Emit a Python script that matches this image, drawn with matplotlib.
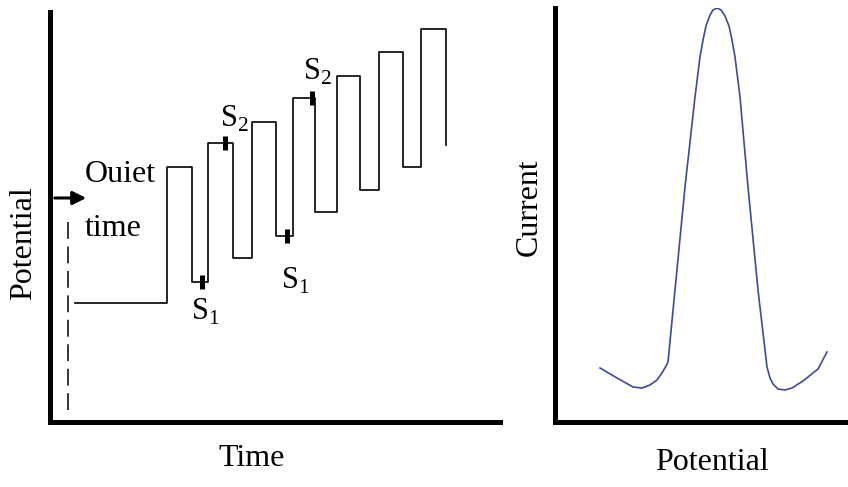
import numpy as np
import matplotlib
matplotlib.use("Agg")
import matplotlib.pyplot as plt

plt.rcParams["font.family"] = "Liberation Serif"
plt.rcParams["mathtext.fontset"] = "custom"
plt.rcParams["mathtext.rm"] = "Liberation Serif"

# square wave potential program (time, potential in drawing units)
quiet_start = 25
base_level = 119
rise_times = [117, 158, 202, 243, 287, 329, 371]
fall_times = [142, 183, 226, 265, 310, 353, 396]
top_levels = [255, 279, 300, 324, 346, 370, 393]
bottom_levels = [140, 164, 186, 210, 232, 255, 277]

# sampling points S1 / S2
sample_t = [152, 175, 237, 262]
sample_p = [140, 279, 186, 324]
sample_lbl = [r"$\mathrm{S}_1$", r"$\mathrm{S}_2$", r"$\mathrm{S}_1$", r"$\mathrm{S}_2$"]
label_t = [155, 184, 245, 267]
label_p = [110, 303, 141, 350]

# voltammogram (potential, current)
pot = [45, 62, 78, 87, 95, 102, 107, 111, 113, 120, 130, 140, 145, 148, 151, 155, 158,
       162, 166, 170, 174, 177, 180, 185, 193, 203, 212, 215, 218, 223, 230, 237, 248, 263, 272]
cur = [54, 44, 35, 34, 37, 42, 49, 56, 60, 132, 235, 325, 365, 382, 396, 407, 412,
       414, 412, 406, 396, 382, 365, 325, 235, 132, 55, 44, 38, 33, 32, 34, 41, 53, 70]

fig = plt.figure(figsize=(8.48, 4.87), dpi=100)
W, H = 848, 487


def add_panel(x0, x1, y0, y1):
    a = fig.add_axes([x0 / W, (H - y1) / H, (x1 - x0) / W, (y1 - y0) / H])
    for s in ["top", "right"]:
        a.spines[s].set_visible(False)
    for s in ["left", "bottom"]:
        a.spines[s].set_linewidth(3.6)
        a.spines[s].set_capstyle("projecting")
    a.set_xticks([])
    a.set_yticks([])
    a.set_xlim(0, x1 - x0)
    a.set_ylim(0, y1 - y0)
    return a


# ---- left panel: potential vs time
ax1 = add_panel(50, 500, 12, 422)
xs = [quiet_start, rise_times[0]]
ys = [base_level, base_level]
for i in range(len(rise_times)):
    xs += [rise_times[i], fall_times[i], fall_times[i]]
    ys += [top_levels[i], top_levels[i], bottom_levels[i]]
    if i + 1 < len(rise_times):
        xs += [rise_times[i + 1]]
        ys += [bottom_levels[i]]
ax1.plot(xs, ys, color="black", lw=1.2)
ax1.plot(sample_t, sample_p, ls="none", marker="|", ms=9.5, mew=3.6, color="black")
for t, p, s in zip(label_t, label_p, sample_lbl):
    ax1.text(t, p, s, fontsize=22, ha="center", va="center")

ax1.plot([18, 18], [12, 207], color="black", lw=1.1, dashes=(11, 5))
ax1.annotate("", xy=(39, 224), xytext=(2, 224),
             arrowprops=dict(arrowstyle="-|>", lw=2.2, color="black", mutation_scale=20))
ax1.text(35, 240, "Ouiet", fontsize=23, ha="left", va="baseline")
ax1.text(35, 186, "time", fontsize=23, ha="left", va="baseline")

fig.text(24 / W, 1 - 243 / H, "Potential", fontsize=23, rotation=90, ha="center", va="center")
fig.text(252 / W, 1 - 458 / H, "Time", fontsize=23, ha="center", va="center")

# ---- right panel: current vs potential
ax2 = add_panel(555, 848, 8, 422)
ax2.plot(pot, cur, color="#3f48a0", lw=1.2)
fig.text(529 / W, 1 - 207 / H, "Current", fontsize=23, rotation=90, ha="center", va="center")
fig.text(712 / W, 1 - 462 / H, "Potential", fontsize=23, ha="center", va="center")

fig.savefig("out.png", dpi=100)
